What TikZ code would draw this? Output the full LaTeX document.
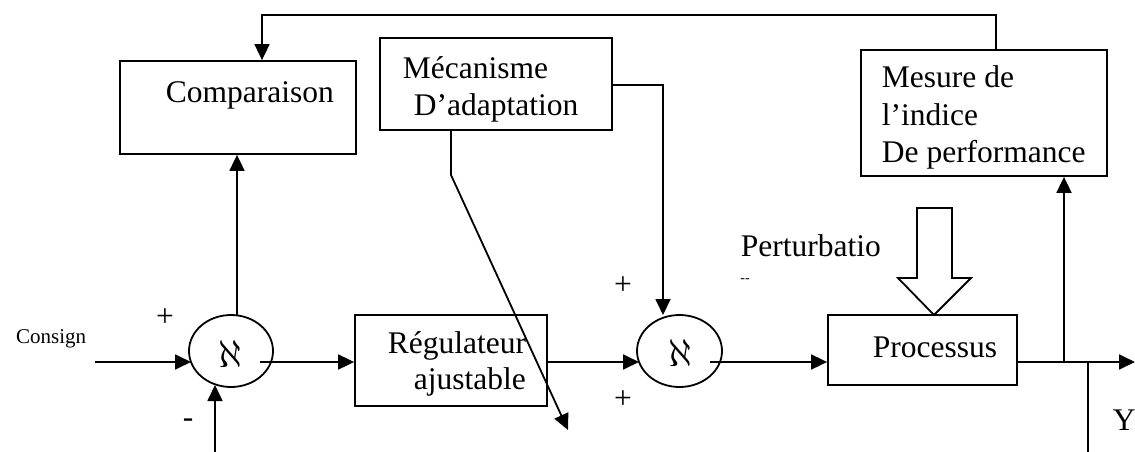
\RequirePackage{fix-cm}
\documentclass[tikz,border=0pt]{standalone}
\usepackage{fontspec}
\setmainfont{Liberation Serif}
\usetikzlibrary{arrows.meta,shapes.geometric}
\begin{document}
\begin{tikzpicture}[x=1pt,y=-1pt,line width=1.8pt,
  box/.style={draw,rectangle,inner sep=0pt,line width=1.8pt},
  sumnode/.style={draw,ellipse,inner sep=0pt,minimum width=84pt,minimum height=72pt,line width=1.8pt},
  txt/.style={font=\fontsize{31.5}{37}\selectfont,inner sep=0pt,anchor=base west},
  sign/.style={font=\fontsize{31.5}{37}\selectfont,inner sep=0pt},
  alef/.style={inner sep=0pt},
  arr/.style={-{Triangle[length=16pt,width=15pt]}}]
\useasboundingbox (0,0) rectangle (1135,452);

% boxes
\node[box,minimum width=236pt,minimum height=93pt] (comp) at (238,107.5) {};
\node[box,minimum width=232pt,minimum height=92pt] (mec) at (496,84) {};
\node[box,minimum width=246pt,minimum height=126pt] (mes) at (984,113) {};
\node[box,minimum width=192pt,minimum height=91pt] (reg) at (451,360.5) {};
\node[box,minimum width=189pt,minimum height=70pt] (proc) at (922.5,350) {};
\node[sumnode] (s1) at (231,351) {};
\node[sumnode,minimum width=85pt] (s2) at (679.5,351) {};

% texts
\node[txt] (tcomp) at (165,102) {Comparaison};
\node[txt] (tmec1) at (402,78) {Mécanisme};
\node[txt] (tmec2) at (413,115) {D’adaptation};
\node[txt] (tmes1) at (881,88) {Mesure de};
\node[txt] (tmes2) at (881,125) {l’indice};
\node[txt] (tmes3) at (881,162) {De performance};
\node[txt] (treg1) at (387,353) {Régulateur};
\node[txt] (treg2) at (413,389) {ajustable};
\node[txt] (tproc) at (872,357) {Processus};
\node[txt] (tpert) at (740,256) {Perturbatio};
\node[font=\fontsize{14}{16}\selectfont,inner sep=0pt] (tdash) at (745,281) {{-}{-}};
\node[font=\fontsize{21}{24}\selectfont,inner sep=0pt,anchor=base east] (tcons) at (87,343) {Consign};
\node[txt] (ty) at (1112,430) {Y};
\node[sign] (p1) at (165,318) {+};
\node[sign] (m1) at (188,423) {-};
\node[sign] (p2) at (623,286) {+};
\node[sign] (p3) at (623,400) {+};
\node[alef] (a1) at (230,354) {\resizebox{!}{27pt}{$\aleph$}};
\node[alef] (a2) at (680,353) {\resizebox{!}{27pt}{$\aleph$}};

% hollow disturbance arrow
\draw[line width=1.8pt] (917,208) -- (952,208) -- (952,278) -- (971,278) -- (934,315)
  -- (898,278) -- (917,278) -- cycle;

% coordinates
\coordinate (cin) at (95,362);
\coordinate (s1in) at (191,362);
\coordinate (s1out) at (260,362);
\coordinate (s1up) at (237,315);
\coordinate (s1lo) at (215,452);
\coordinate (s1bot) at (215,385);
\coordinate (fbR) at (996,15);
\coordinate (fbL) at (262,15);
\coordinate (mb) at (451,175);
\coordinate (mtip) at (568,430);
\coordinate (mr) at (663,85);
\coordinate (s2top) at (663,315);
\coordinate (s2in) at (639,362);
\coordinate (s2out) at (710,362);
\coordinate (yend) at (1135,362);
\coordinate (br) at (1064,362);
\coordinate (yv) at (1088,362);
\coordinate (yvb) at (1088,452);

% connectors
\draw[arr] (cin) -- (s1in);
\draw[arr] (s1out) -- (s1out -| reg.west);
\draw[arr] (s1up) -- (s1up |- comp.south);
\draw[arr] (s1lo) -- (s1bot);
\draw[arr] (fbR |- mes.north) -- (fbR) -- (fbL) -- (fbL |- comp.north);
\draw[arr] (mb |- mec.south) -- (mb) -- (mtip);
\draw[arr] (mec.east |- mr) -- (mr) -- (s2top);
\draw[arr] (s2in -| reg.east) -- (s2in);
\draw[arr] (s2out) -- (s2out -| proc.west);
\draw[arr] (yend -| proc.east) -- (yend);
\draw[arr] (br) -- (br |- mes.south);
\draw (yv) -- (yvb);
\end{tikzpicture}
\end{document}
